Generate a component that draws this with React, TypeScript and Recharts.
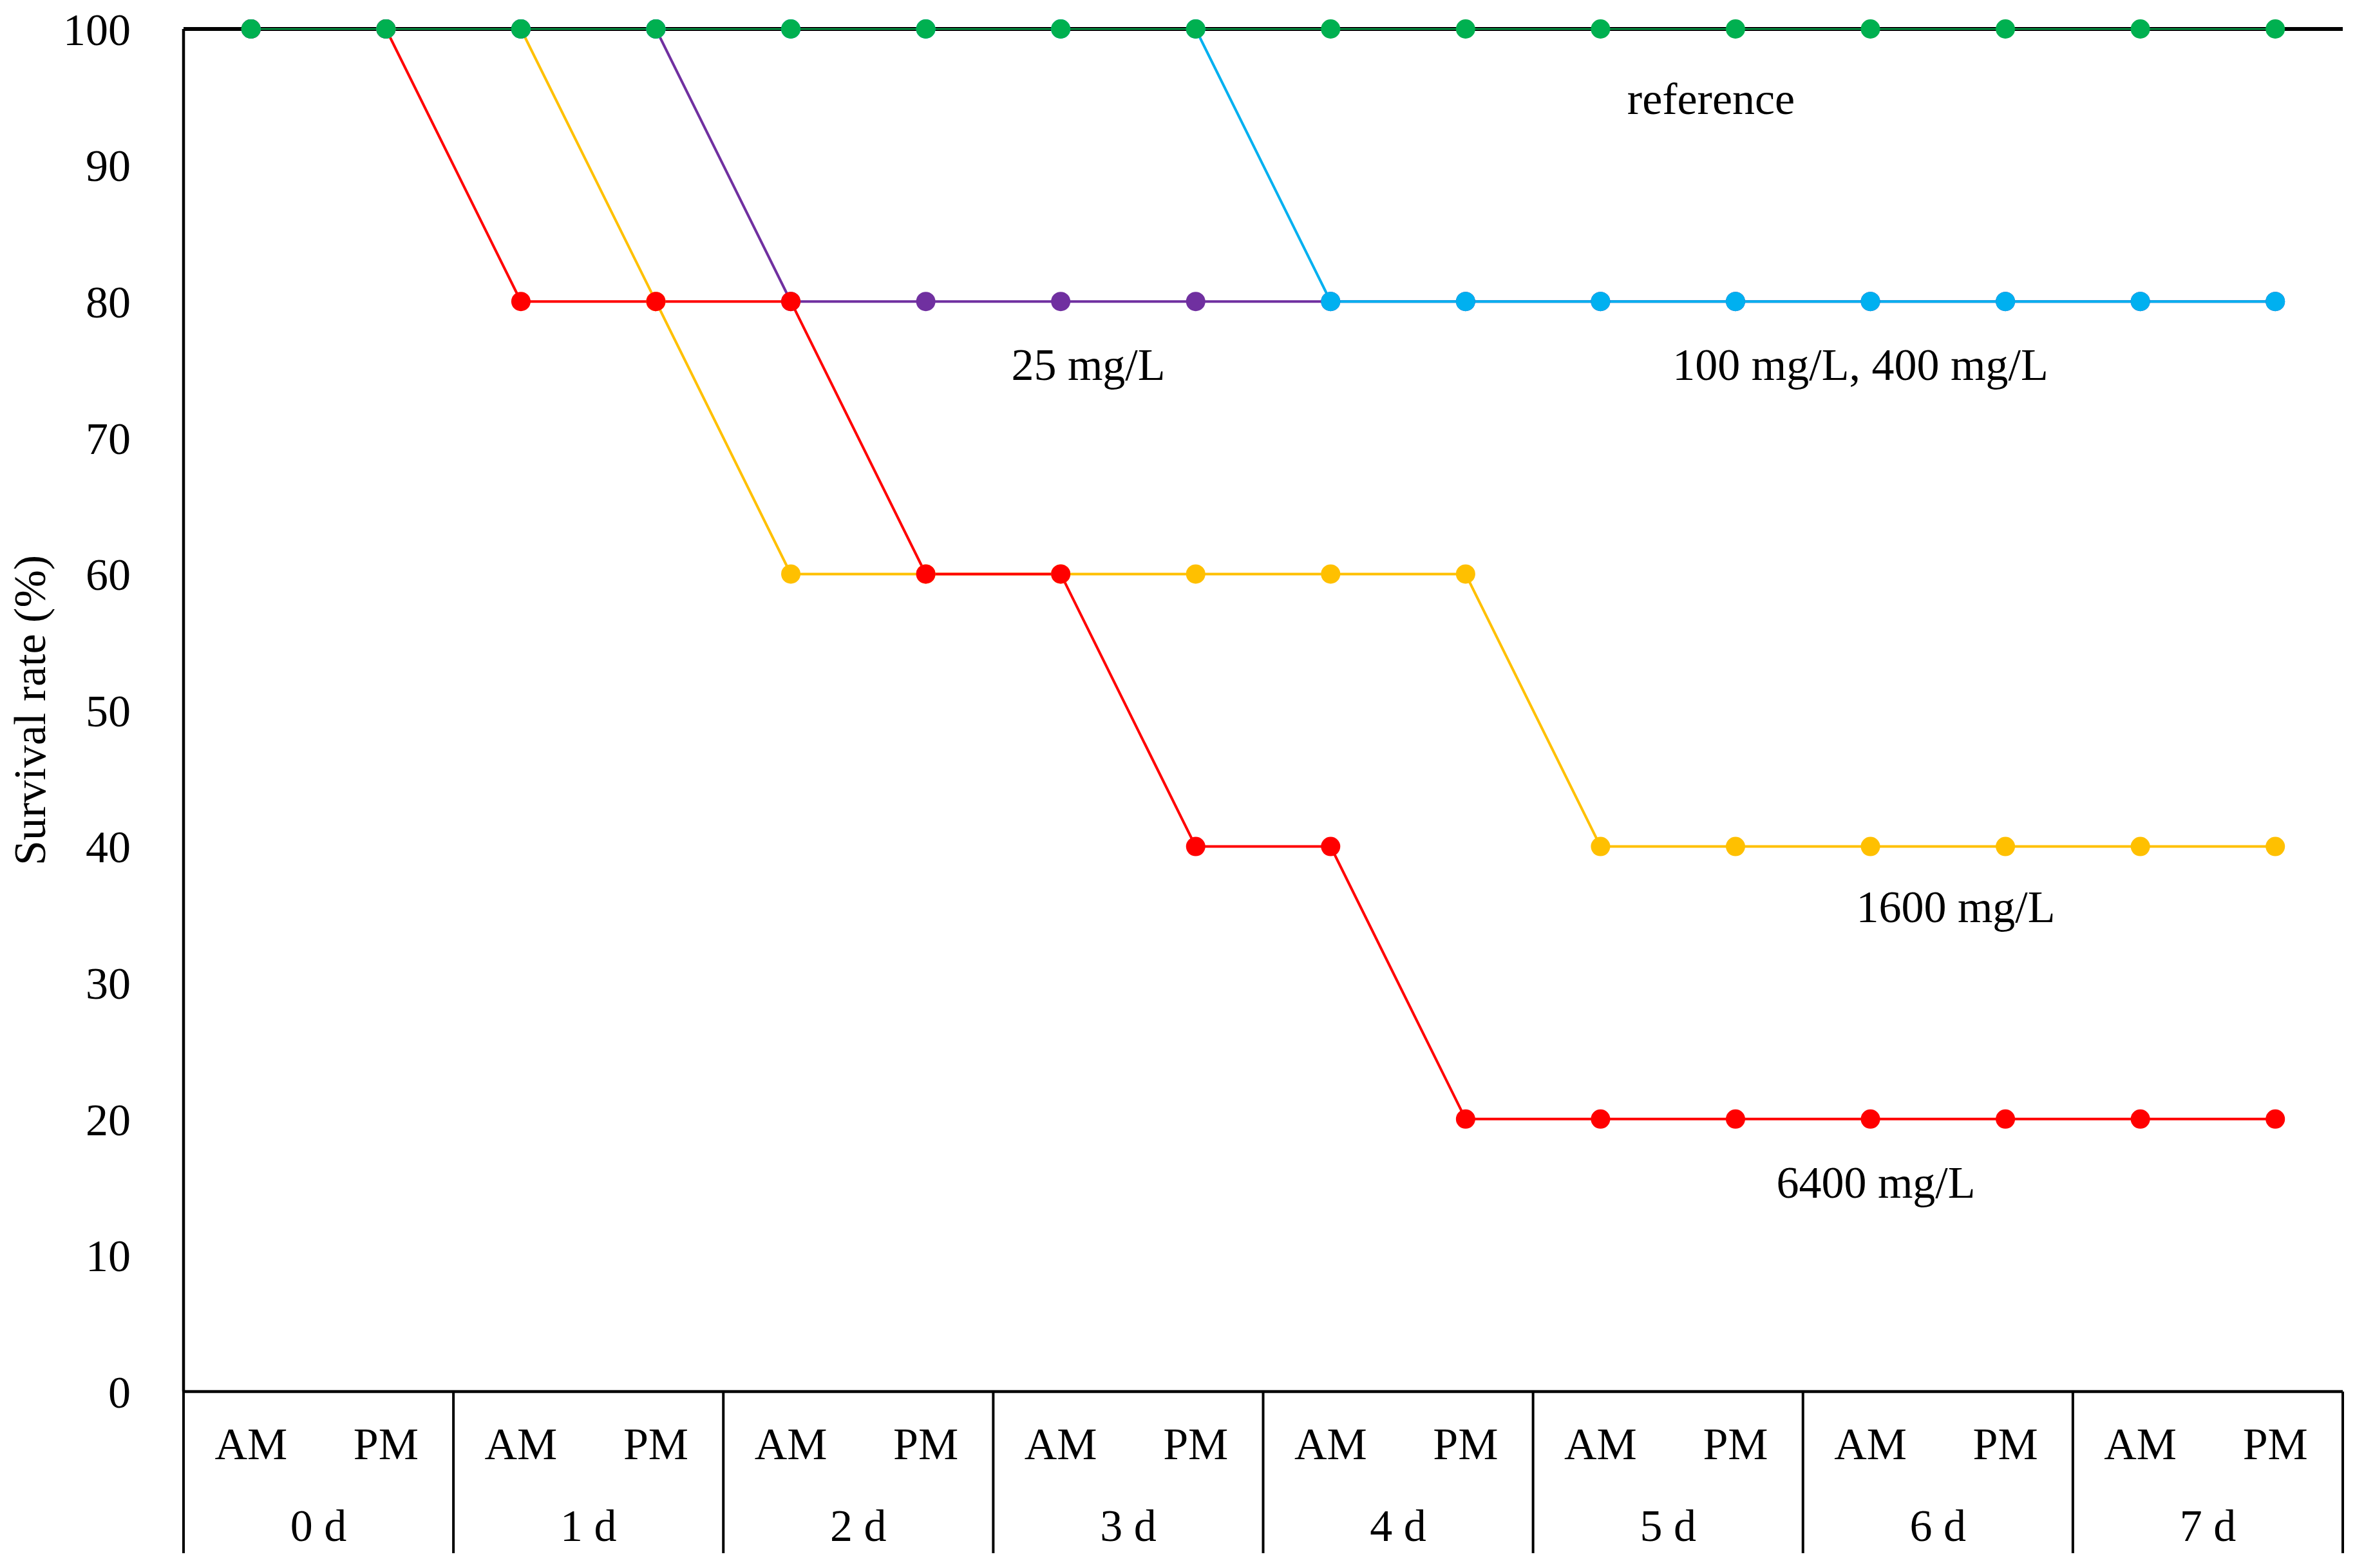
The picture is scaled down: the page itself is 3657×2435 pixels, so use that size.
// Survival rate over 7 days for each concentration (Recharts LineChart)
import React from "react";
import {
  LineChart,
  Line,
  XAxis,
  YAxis,
  CartesianGrid,
  ReferenceLine,
} from "recharts";

const halves = ["AM", "PM", "AM", "PM", "AM", "PM", "AM", "PM", "AM", "PM", "AM", "PM", "AM", "PM", "AM", "PM"];
const days = ["0 d", "1 d", "2 d", "3 d", "4 d", "5 d", "6 d", "7 d"];
const yTicks = [0, 10, 20, 30, 40, 50, 60, 70, 80, 90, 100];

const reference = [100, 100, 100, 100, 100, 100, 100, 100, 100, 100, 100, 100, 100, 100, 100, 100];
const mg25 = [100, 100, 100, 100, 80, 80, 80, 80, 80, 80, 80, 80, 80, 80, 80, 80];
const mg100_400 = [100, 100, 100, 100, 100, 100, 100, 100, 80, 80, 80, 80, 80, 80, 80, 80];
const mg1600 = [100, 100, 100, 80, 60, 60, 60, 60, 60, 60, 40, 40, 40, 40, 40, 40];
const mg6400 = [100, 100, 80, 80, 80, 60, 60, 40, 40, 20, 20, 20, 20, 20, 20, 20];

const W = 3657;
const H = 2435;
const PLOT_LEFT = 285;
const PLOT_RIGHT = 3638;
const STEP = (PLOT_RIGHT - PLOT_LEFT) / halves.length;
const FONT = '"Liberation Serif", "Times New Roman", serif';
const FS = 70;

const data = halves.map((h, i) => ({
  idx: i,
  half: h,
  day: days[Math.floor(i / 2)],
  reference: reference[i],
  mg25: mg25[i],
  mg100_400: mg100_400[i],
  mg1600: mg1600[i],
  mg6400: mg6400[i],
}));

function TwoLevelTick(props: any) {
  const { x, y, payload } = props;
  const i = payload.index ?? payload.value;
  const row = data[i];
  return (
    <g>
      <text x={x} y={y + 105} textAnchor="middle" fontSize={FS} fontFamily={FONT} fill="#000">
        {row.half}
      </text>
      {i % 2 === 0 && (
        <>
          <line x1={x - STEP / 2} x2={x - STEP / 2} y1={y} y2={y + 251} stroke="#000" strokeWidth={4} />
          <text x={x + STEP / 2} y={y + 232} textAnchor="middle" fontSize={FS} fontFamily={FONT} fill="#000">
            {row.day}
          </text>
        </>
      )}
      {i === halves.length - 1 && (
        <line x1={x + STEP / 2} x2={x + STEP / 2} y1={y} y2={y + 251} stroke="#000" strokeWidth={4} />
      )}
    </g>
  );
}

// drawn in this order: yellow under purple under red under blue
const series = [
  { key: "mg1600", color: "#FFC000" },
  { key: "mg25", color: "#7030A0" },
  { key: "mg6400", color: "#FF0000" },
  { key: "mg100_400", color: "#00B0F0" },
];

const notes = [
  { text: "reference", x: 2657, y: 177 },
  { text: "25 mg/L", x: 1690, y: 590 },
  { text: "100 mg/L, 400 mg/L", x: 2889, y: 590 },
  { text: "1600 mg/L", x: 3037, y: 1432 },
  { text: "6400 mg/L", x: 2913, y: 1860 },
];

export default function App() {
  return (
    <div style={{ position: "absolute", left: 0, top: 0, width: W, height: H, background: "#fff" }}>
      <LineChart
        width={W}
        height={H}
        data={data}
        margin={{ top: 45, right: W - PLOT_RIGHT, bottom: 0, left: 0 }}
      >
        <CartesianGrid vertical={false} stroke="#d9d9d9" strokeWidth={4.5} />
        <XAxis
          dataKey="idx"
          type="category"
          height={274}
          padding={{ left: STEP / 2, right: STEP / 2 }}
          interval={0}
          tickLine={false}
          tickSize={0}
          tickMargin={0}
          axisLine={{ stroke: "#000", strokeWidth: 4.5 }}
          tick={<TwoLevelTick />}
        />
        <YAxis
          yAxisId="left"
          width={PLOT_LEFT}
          domain={[0, 100]}
          ticks={yTicks}
          interval={0}
          tickLine={false}
          tickSize={0}
          tickMargin={82}
          axisLine={{ stroke: "#000", strokeWidth: 4.5 }}
          tick={{ fontSize: FS, fontFamily: FONT, fill: "#000" }}
        />
        <YAxis
          yAxisId="right"
          orientation="right"
          width={0}
          domain={[0, 100]}
          tick={false}
          tickLine={false}
          axisLine={{ stroke: "#000", strokeWidth: 4.5 }}
        />
        {series.map((s) => (
          <Line
            key={s.key}
            yAxisId="left"
            type="linear"
            dataKey={s.key}
            stroke={s.color}
            strokeWidth={4}
            dot={{ r: 15, fill: s.color, stroke: s.color, strokeWidth: 0 }}
            activeDot={false}
            isAnimationActive={false}
          />
        ))}
        <ReferenceLine yAxisId="left" y={100} stroke="#000" strokeWidth={6} zIndex={450} />
        <Line
          yAxisId="left"
          type="linear"
          dataKey="reference"
          stroke="#00B050"
          strokeWidth={2}
          dot={{ r: 15, fill: "#00B050", stroke: "#00B050", strokeWidth: 0 }}
          activeDot={false}
          isAnimationActive={false}
          zIndex={500}
        />
      </LineChart>
      <svg
        width={W}
        height={H}
        style={{ position: "absolute", left: 0, top: 0, pointerEvents: "none" }}
      >
        {notes.map((n) => (
          <text key={n.text} x={n.x} y={n.y} textAnchor="middle" fontSize={FS} fontFamily={FONT} fill="#000">
            {n.text}
          </text>
        ))}
        <text
          x={0}
          y={0}
          transform="translate(70,1103) rotate(-90)"
          textAnchor="middle"
          fontSize={FS}
          fontFamily={FONT}
          fill="#000"
        >
          Survival rate (%)
        </text>
      </svg>
    </div>
  );
}
